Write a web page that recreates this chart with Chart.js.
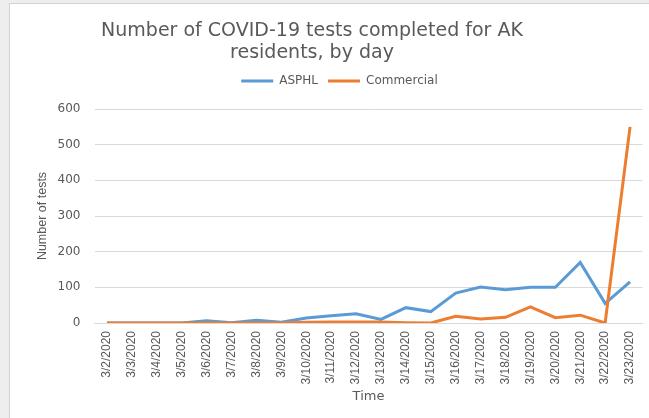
<!DOCTYPE html>
<html><head><meta charset="utf-8">
<script src="https://cdn.jsdelivr.net/npm/chart.js@4"></script>
<style>html,body{margin:0;padding:0;background:#fff;overflow:hidden}canvas{display:block}</style>
</head><body>
<canvas id="c" width="649" height="418" style="width:649px;height:418px"></canvas>
<script>
const dates = ['3/2/2020','3/3/2020','3/4/2020','3/5/2020','3/6/2020','3/7/2020','3/8/2020','3/9/2020','3/10/2020','3/11/2020','3/12/2020','3/13/2020','3/14/2020','3/15/2020','3/16/2020','3/17/2020','3/18/2020','3/19/2020','3/20/2020','3/21/2020','3/22/2020','3/23/2020'];
const asphl = [0,0,0,0,6,1,8,2,14,20,26,10,43,32,84,101,93,100,100,170,55,115];
const commercial = [0,0,0,0,0,0,0,0,2,3,3,3,1,0,19,11,16,45,15,22,0,550];
const yTicks = [0,100,200,300,400,500,600];
const seriesNames = ['ASPHL','Commercial'];
const chartTitle = ['Number of COVID-19 tests completed for AK','residents, by day'];
const xTitle = 'Time';
const yTitle = 'Number of tests';

const TEXT = '#595959';
const GRID = '#d9d9d9';

const framePlugin = {
  id: 'frame',
  beforeDraw(chart) {
    const {ctx, width, height} = chart;
    ctx.save();
    ctx.fillStyle = '#eeeeee';
    ctx.fillRect(0, 0, width, height);
    ctx.fillStyle = '#d2d2d2';
    ctx.fillRect(9, 3, width - 9, height - 3);
    ctx.fillStyle = '#ffffff';
    ctx.fillRect(10, 4, width - 10, height - 4);
    ctx.restore();
  }
};
const titlePlugin = {
  id: 'topTitle',
  afterDraw(chart) {
    const ctx = chart.ctx;
    ctx.save();
    ctx.font = '19px "DejaVu Sans"';
    ctx.fillStyle = TEXT;
    ctx.textAlign = 'center';
    ctx.textBaseline = 'middle';
    ctx.fillText(chartTitle[0], 312, 31);
    ctx.fillText(chartTitle[1], 312, 53);
    ctx.restore();
  }
};

new Chart(document.getElementById('c'), {
  type: 'line',
  data: {
    labels: dates,
    datasets: [
      {label: seriesNames[0], data: asphl, borderColor: '#5B9BD5', backgroundColor: '#5B9BD5', borderWidth: 3, pointRadius: 0, tension: 0, order: 2, xAxisID: 'x', yAxisID: 'y'},
      {label: seriesNames[1], data: commercial, borderColor: '#ED7D31', backgroundColor: '#ED7D31', borderWidth: 3, pointRadius: 0, tension: 0, order: 1, xAxisID: 'x', yAxisID: 'y'}
    ]
  },
  options: {
    responsive: false,
    devicePixelRatio: 1,
    animation: false,
    layout: {padding: {top: 65, left: 36.5, right: 6.5, bottom: 0}},
    plugins: {
      title: {display: false},
      tooltip: {enabled: false},
      legend: {
        position: 'top',
        align: 'center',
        labels: {
          usePointStyle: true,
          pointStyle: 'line',
          pointStyleWidth: 32,
          color: TEXT,
          font: {family: '"DejaVu Sans"', size: 12},
          padding: 10,
          sort: (a, b) => a.datasetIndex - b.datasetIndex
        }
      }
    },
    scales: {
      x: {
        type: 'category',
        position: 'bottom',
        offset: true,
        grid: {display: false, drawTicks: false},
        border: {display: true, color: GRID, width: 1},
        ticks: {minRotation: 90, maxRotation: 90, autoSkip: false, padding: 8, color: TEXT,
          font: {family: '"Liberation Sans Narrow", "Liberation Sans"', size: 12}},
        title: {display: true, text: xTitle, color: TEXT, font: {family: '"DejaVu Sans"', size: 13, lineHeight: 1}, padding: {top: 0, bottom: 14.5}},
        afterFit(s) { s.height = 95; s.paddingLeft = 0; s.paddingRight = 0; }
      },
      spacer: {
        type: 'category',
        position: 'top',
        display: true,
        grid: {display: false, drawTicks: false},
        border: {display: false},
        ticks: {display: false},
        afterFit(s) { s.height = 12; s.paddingLeft = 0; s.paddingRight = 0; }
      },
      y: {
        type: 'linear',
        position: 'left',
        min: 0,
        max: 600,
        afterBuildTicks(s) { s.ticks = yTicks.map(v => ({value: v})); },
        grid: {color: GRID, lineWidth: 1, drawTicks: false},
        border: {display: false},
        ticks: {padding: 14, color: TEXT, font: {family: '"DejaVu Sans"', size: 12}},
        title: {display: true, text: yTitle, color: TEXT, font: {family: '"Liberation Sans"', size: 12.5, lineHeight: 1}, padding: {top: 0, bottom: 0}},
        afterFit(s) { s.width = 58; s.paddingTop = 0; s.paddingBottom = 0; }
      }
    }
  },
  plugins: [framePlugin, titlePlugin]
});
</script>
</body></html>
